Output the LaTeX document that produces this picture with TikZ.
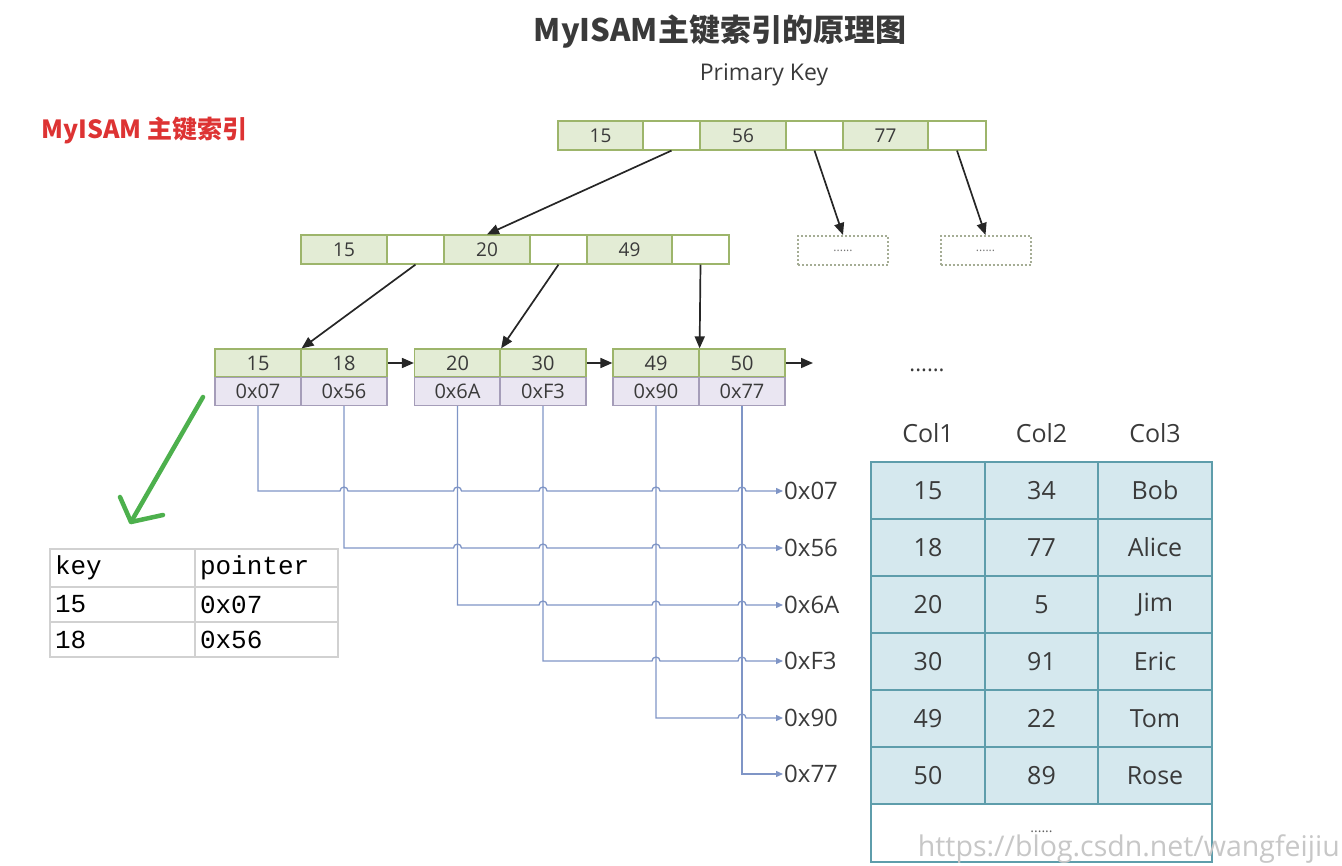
\documentclass[tikz,border=0pt]{standalone}
\usepackage{fontspec}
\setmainfont{Open Sans}
\newfontfamily\cjk{Noto Sans CJK SC}
\newfontfamily\monof{Liberation Mono}
\usetikzlibrary{arrows.meta}
\definecolor{txt}{HTML}{3A3A3A}
\definecolor{keyfill}{HTML}{E3ECD5}
\definecolor{keyborder}{HTML}{9DB56B}
\definecolor{ptrfill}{HTML}{EAE6F2}
\definecolor{ptrborder}{HTML}{A59DB9}
\definecolor{blueln}{HTML}{7F95C6}
\definecolor{tblfill}{HTML}{D5E8EE}
\definecolor{tblborder}{HTML}{5E9DAB}
\definecolor{redlbl}{HTML}{DD3333}
\definecolor{greenarr}{HTML}{4DB04D}
\definecolor{dashb}{HTML}{A5AD95}
\begin{document}
\begin{tikzpicture}[x=1pt,y=-1pt,
  cellbase/.style={draw, inner sep=0pt, minimum height=29pt, line width=1.2pt, text=txt, font=\fontsize{19}{20}\selectfont},
  keycell/.style={cellbase, fill=keyfill, draw=keyborder},
  emptycell/.style={cellbase, fill=white, draw=keyborder},
  leafkey/.style={keycell, minimum height=28pt, minimum width=86pt, font=\fontsize{20}{20}\selectfont},
  ptrcell/.style={cellbase, fill=ptrfill, draw=ptrborder, minimum height=28pt, minimum width=86pt, font=\fontsize{20}{20}\selectfont},
  dashbox/.style={draw=dashb, dotted, line width=2pt, minimum width=90pt, minimum height=29pt, inner sep=0pt, font=\fontsize{12}{12}\selectfont, text=txt!70},
  datacell/.style={draw=tblborder, fill=tblfill, line width=2pt, minimum width=114pt, minimum height=57pt, inner sep=0pt, text=txt, font=\fontsize{25}{25}\selectfont},
  colhead/.style={text=txt, font=\fontsize{25}{25}\selectfont},
  tarrow/.style={-{Triangle[length=12pt,width=10pt]}, line width=1.7pt, black!85},
  blueline/.style={draw=blueln, line width=1.3pt},
  bluearrow/.style={blueline, -{Triangle[length=7pt,width=6pt]}},
  addr/.style={anchor=west, inner sep=1pt, text=txt, font=\fontsize{24}{24}\selectfont},
  smallcell/.style={draw=black!18, line width=1.3pt, inner sep=5pt, align=left, text=black, font=\monof\fontsize{26}{26}\selectfont}
]
\useasboundingbox (0,0) rectangle (1342,866);

% titles
\node[text=txt, font=\cjk\bfseries\fontsize{31}{31}\selectfont] (title) at (720,32) {MyISAM主键索引的原理图};
\node[text=txt, font=\fontsize{23}{23}\selectfont] (pk) at (764,75) {Primary Key};
\node[anchor=west, text=redlbl, font=\cjk\bfseries\fontsize{25}{25}\selectfont] (redl) at (38,130) {MyISAM 主键索引};

% root node
\node[keycell, minimum width=85pt] (r15) at (600.5,135.5) {15};
\node[emptycell, minimum width=57pt] (re1) at (671.5,135.5) {};
\node[keycell, minimum width=86pt] (r56) at (743,135.5) {56};
\node[emptycell, minimum width=57pt] (re2) at (814.5,135.5) {};
\node[keycell, minimum width=85pt] (r77) at (885.5,135.5) {77};
\node[emptycell, minimum width=58pt] (re3) at (957,135.5) {};

% second level
\node[keycell, minimum width=86pt] (a15) at (344,249.5) {15};
\node[emptycell, minimum width=57pt] (ae1) at (415.5,249.5) {};
\node[keycell, minimum width=86pt] (a20) at (487,249.5) {20};
\node[emptycell, minimum width=57pt] (ae2) at (558.5,249.5) {};
\node[keycell, minimum width=85pt] (a49) at (629.5,249.5) {49};
\node[emptycell, minimum width=57pt] (ae3) at (700.5,249.5) {};

\node[dashbox] (d1) at (843,250.5) {......};
\node[dashbox] (d2) at (985.5,250.5) {......};

% leaves
\node[leafkey] (l15) at (258,363) {15};
\node[leafkey] (l18) at (344,363) {18};
\node[leafkey] (l20) at (457.5,363) {20};
\node[leafkey] (l30) at (543,363) {30};
\node[leafkey] (l49) at (656,363) {49};
\node[leafkey] (l50) at (742,363) {50};
\node[ptrcell] (p07) at (258,391.5) {0x07};
\node[ptrcell] (p56) at (344,391.5) {0x56};
\node[ptrcell] (p6A) at (457.5,391.5) {0x6A};
\node[ptrcell] (pF3) at (543,391.5) {0xF3};
\node[ptrcell] (p90) at (656,391.5) {0x90};
\node[ptrcell] (p77) at (742,391.5) {0x77};
\node[text=txt, font=\fontsize{22}{22}\selectfont] (dots) at (927,370) {......};

% tree arrows
\draw[tarrow] (re1.south) -- (a20.north);
\draw[tarrow] (re2.south) -- (d1.north);
\draw[tarrow] (re3.south) -- (d2.north);
\draw[tarrow] (ae1.south) -- (l15.north east);
\draw[tarrow] (ae2.south) -- (l20.north east);
\draw[tarrow] (ae3.south) -- (l49.north east);
\coordinate (lend) at (813,363);
\draw[tarrow] (l18.east) -- (l20.west);
\draw[tarrow] (l30.east) -- (l49.west);
\draw[tarrow] (l50.east) -- (lend);

% address labels
\node[addr] (h07) at (783,491) {0x07};
\node[addr] (h56) at (783,548) {0x56};
\node[addr] (h6A) at (783,605) {0x6A};
\node[addr] (hF3) at (783,661) {0xF3};
\node[addr] (h90) at (783,718) {0x90};
\node[addr] (h77) at (783,774) {0x77};

% blue pointer lines with hops
\draw[bluearrow] (p07.south) -- (258,491) -- (340,491) arc[start angle=180,end angle=360,radius=4] -- (453.5,491) arc[start angle=180,end angle=360,radius=4] -- (539,491) arc[start angle=180,end angle=360,radius=4] -- (652,491) arc[start angle=180,end angle=360,radius=4] -- (738,491) arc[start angle=180,end angle=360,radius=4] -- (h07.west);
\draw[bluearrow] (p56.south) -- (344,548) -- (453.5,548) arc[start angle=180,end angle=360,radius=4] -- (539,548) arc[start angle=180,end angle=360,radius=4] -- (652,548) arc[start angle=180,end angle=360,radius=4] -- (738,548) arc[start angle=180,end angle=360,radius=4] -- (h56.west);
\draw[bluearrow] (p6A.south) -- (457.5,605) -- (539,605) arc[start angle=180,end angle=360,radius=4] -- (652,605) arc[start angle=180,end angle=360,radius=4] -- (738,605) arc[start angle=180,end angle=360,radius=4] -- (h6A.west);
\draw[bluearrow] (pF3.south) -- (543,661) -- (652,661) arc[start angle=180,end angle=360,radius=4] -- (738,661) arc[start angle=180,end angle=360,radius=4] -- (hF3.west);
\draw[bluearrow] (p90.south) -- (656,718) -- (738,718) arc[start angle=180,end angle=360,radius=4] -- (h90.west);
\draw[bluearrow] (p77.south) -- (742,774) -- (h77.west);

% data table
\node[colhead] (c1) at (928,433) {Col1};
\node[colhead] (c2) at (1041.5,433) {Col2};
\node[colhead] (c3) at (1155,433) {Col3};
\node[datacell] (t11) at (928,490.5) {15};
\node[datacell] (t12) at (1041.5,490.5) {34};
\node[datacell] (t13) at (1155,490.5) {Bob};
\node[datacell] (t21) at (928,547.5) {18};
\node[datacell] (t22) at (1041.5,547.5) {77};
\node[datacell] (t23) at (1155,547.5) {Alice};
\node[datacell] (t31) at (928,604.5) {20};
\node[datacell] (t32) at (1041.5,604.5) {5};
\node[datacell] (t33) at (1155,604.5) {Jim};
\node[datacell] (t41) at (928,661.5) {30};
\node[datacell] (t42) at (1041.5,661.5) {91};
\node[datacell] (t43) at (1155,661.5) {Eric};
\node[datacell] (t51) at (928,718.5) {49};
\node[datacell] (t52) at (1041.5,718.5) {22};
\node[datacell] (t53) at (1155,718.5) {Tom};
\node[datacell] (t61) at (928,775.5) {50};
\node[datacell] (t62) at (1041.5,775.5) {89};
\node[datacell] (t63) at (1155,775.5) {Rose};
\node[datacell, fill=white, minimum width=341pt, minimum height=58pt] (t7) at (1041.5,833) {};
\node[text=txt!80, font=\fontsize{14}{14}\selectfont] (tdots) at (1041.5,832) {......};

% green arrow
\coordinate (g1) at (203,397);
\coordinate (g2) at (131,522);
\coordinate (gh1) at (120,497);
\coordinate (gh2) at (163,515);
\draw[greenarr, line width=4.5pt, line cap=round, line join=round] (g1) -- (g2);
\draw[greenarr, line width=4.5pt, line cap=round, line join=round] (gh1) -- (g2) -- (gh2);

% small key/pointer table
\node[smallcell, text width=135pt, minimum height=38pt] (k1) at (122.5,568) {key};
\node[smallcell, text width=133pt, minimum height=38pt] (q1) at (266.5,568) {pointer};
\node[smallcell, text width=135pt, minimum height=35pt] (k2) at (122.5,604.5) {15};
\node[smallcell, text width=133pt, minimum height=35pt] (q2) at (266.5,604.5) {0x07};
\node[smallcell, text width=135pt, minimum height=35pt] (k3) at (122.5,639.5) {18};
\node[smallcell, text width=133pt, minimum height=35pt] (q3) at (266.5,639.5) {0x56};

% watermark
\node[anchor=base east, inner sep=0pt, text=black!22, font=\fontsize{28.5}{28.5}\selectfont] (wm) at (1340,856) {https://blog.csdn.net/wangfeijiu};
\end{tikzpicture}
\end{document}
